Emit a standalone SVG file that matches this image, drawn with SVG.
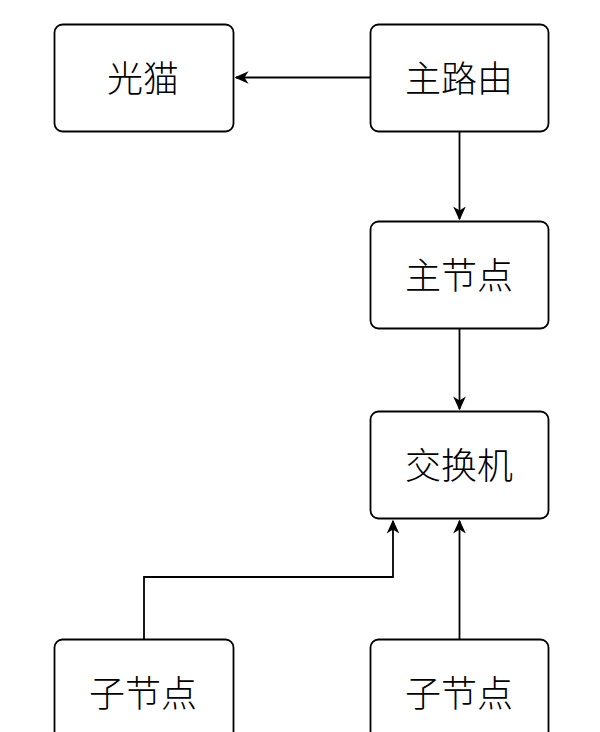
<svg xmlns="http://www.w3.org/2000/svg" width="600" height="732" viewBox="0 0 600 732">
<style>
.box{fill:#fff;stroke:#000;stroke-width:1.8}
.lbl{font-family:"Noto Sans CJK SC","Noto Sans",sans-serif;font-size:36px;fill:#000;text-anchor:middle;dominant-baseline:central;font-weight:300}
.edge{fill:none;stroke:#000;stroke-width:1.8}
</style>
<defs>
<marker id="arr" viewBox="0 0 10 10" refX="9" refY="5" markerWidth="14" markerHeight="14" markerUnits="userSpaceOnUse" orient="auto">
<path d="M0,0.5 L10,5 L0,9.5 L3,5 Z" fill="#000"/>
</marker>
</defs>
<rect width="600" height="732" fill="#fff"/>
<g id="edges">
<path class="edge" d="M370,77.5 H236" marker-end="url(#arr)"/>
<path class="edge" d="M459.5,131 V219" marker-end="url(#arr)"/>
<path class="edge" d="M459.5,328 V409" marker-end="url(#arr)"/>
<path class="edge" d="M144,639 V577 H393 V521" marker-end="url(#arr)"/>
<path class="edge" d="M459.5,639 V521" marker-end="url(#arr)"/>
</g>
<g id="guangmao"><rect class="box" x="54.5" y="24.5" width="179" height="107" rx="8"/><text class="lbl" x="143" y="76">光猫</text></g>
<g id="zhuluyou"><rect class="box" x="370.5" y="24.5" width="178" height="107" rx="8"/><text class="lbl" x="459" y="76">主路由</text></g>
<g id="zhujiedian"><rect class="box" x="370.5" y="221.5" width="178" height="107" rx="8"/><text class="lbl" x="459" y="273">主节点</text></g>
<g id="jiaohuanji"><rect class="box" x="370.5" y="411.5" width="178" height="107" rx="8"/><text class="lbl" x="459" y="463">交换机</text></g>
<g id="zijiedian1"><rect class="box" x="54.5" y="639.5" width="179" height="107" rx="8"/><text class="lbl" x="143" y="691">子节点</text></g>
<g id="zijiedian2"><rect class="box" x="370.5" y="639.5" width="178" height="107" rx="8"/><text class="lbl" x="459" y="691">子节点</text></g>
</svg>
